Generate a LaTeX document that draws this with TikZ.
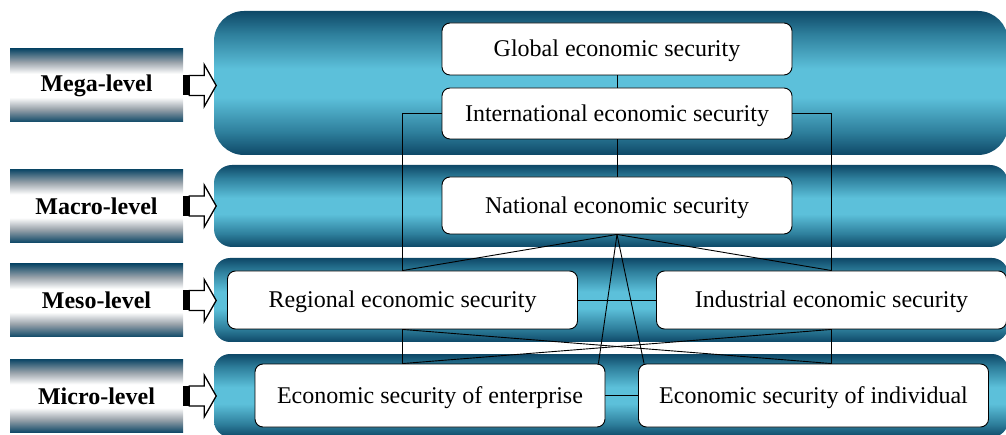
\documentclass[tikz,border=0pt]{standalone}
\usepackage{fontspec}
\setmainfont{Liberation Serif}
\usepackage{xcolor}
\usepackage{tikz}
\usetikzlibrary{calc,positioning}

\definecolor{tealdark}{HTML}{0E4867}
\definecolor{tealmid}{HTML}{2E7F9C}
\definecolor{teallight}{HTML}{5CC0DA}
\definecolor{labelgrey}{HTML}{9AA3AB}

\pgfdeclareverticalshading{bandshade}{100bp}{color(0bp)=(tealdark); color(25bp)=(tealdark); color(33bp)=(tealmid); color(45bp)=(teallight); color(55bp)=(teallight); color(67bp)=(tealmid); color(75bp)=(tealdark); color(100bp)=(tealdark)}
\pgfdeclareverticalshading{labelshade}{100bp}{color(0bp)=(tealdark); color(25bp)=(tealdark); color(34bp)=(labelgrey); color(42bp)=(white); color(58bp)=(white); color(66bp)=(labelgrey); color(75bp)=(tealdark); color(100bp)=(tealdark)}

\tikzset{
    levelbox/.style={rectangle, shading=labelshade, inner sep=0,
        minimum width=173, minimum height=73,
        font=\bfseries\fontsize{24}{28}\selectfont},
    secbox/.style={rectangle, rounded corners=8, draw=black, line width=0.9pt,
        fill=white, inner sep=0, minimum width=350,
        text height=16pt, text depth=0pt,
        font=\fontsize{24}{28}\selectfont},
    link/.style={black, line width=0.9pt},
    levelarrow/.pic={
        \draw[fill=white, line width=1.3pt] (6,-10) -- (21,-10) -- (21,-21)
            -- (33,0) -- (21,21) -- (21,10) -- (6,10) -- cycle;
        \fill[black] (0,-10) rectangle (6,10);
    }
}

\begin{document}
\begin{tikzpicture}[x=1pt,y=-1pt]
    \useasboundingbox (0,0) rectangle (1006,435);

    % bands
    \shade[shading=bandshade, rounded corners=30] (214,11) rectangle (1008,155);
    \shade[shading=bandshade, rounded corners=18] (214,165) rectangle (1008,247);
    \shade[shading=bandshade, rounded corners=16] (214,258) rectangle (1008,342);
    \shade[shading=bandshade, rounded corners=16] (214,354) rectangle (1008,437);

    % level labels
    \node[levelbox] (mega) at (96.5,85.5) {Mega-level};
    \node[levelbox] (macro) at (96.5,206) {Macro-level};
    \node[levelbox] (meso) at (96.5,300.5) {Meso-level};
    \node[levelbox] (micro) at (96.5,396) {Micro-level};

    \pic at (mega.east) {levelarrow};
    \pic at (macro.east) {levelarrow};
    \pic at (meso.east) {levelarrow};
    \pic at (micro.east) {levelarrow};

    % security nodes
    \node[secbox, minimum height=52] (glob) at (617,49) {Global economic security};
    \node[secbox, minimum height=51] (intl) at (617,113.5) {International economic security};
    \node[secbox, minimum height=57] (nat) at (617,205.5) {National economic security};
    \node[secbox, minimum height=58] (reg) at (402.5,300) {Regional economic security};
    \node[secbox, minimum height=58] (ind) at (831.5,300) {Industrial economic security};
    \node[secbox, minimum height=63] (ent) at (430,395.5) {Economic security of enterprise};
    \node[secbox, minimum height=63] (indiv) at (813.5,395.5) {Economic security of individual};

    % links
    \draw[link] (glob.south) -- (intl.north);
    \draw[link] (intl.south) -- (nat.north);
    \draw[link] (intl.west) -| (reg.north);
    \draw[link] (intl.east) -| (ind.north);
    \draw[link] (nat.south) -- (reg.north);
    \draw[link] (nat.south) -- (ind.north);
    \draw[link] (nat.south) -- ($(ent.north east)+(-7,0)$);
    \draw[link] (nat.south) -- ($(indiv.north west)+(6,0)$);
    \draw[link] (reg.east) -- (ind.west);
    \draw[link] (ent.east) -- (indiv.west);
    \draw[link] (reg.south) -- (reg.south |- ent.north);
    \draw[link] (ind.south) -- (ind.south |- indiv.north);
    \draw[link] (reg.south) -- (ind.south |- indiv.north);
    \draw[link] (ind.south) -- (reg.south |- ent.north);
\end{tikzpicture}
\end{document}
